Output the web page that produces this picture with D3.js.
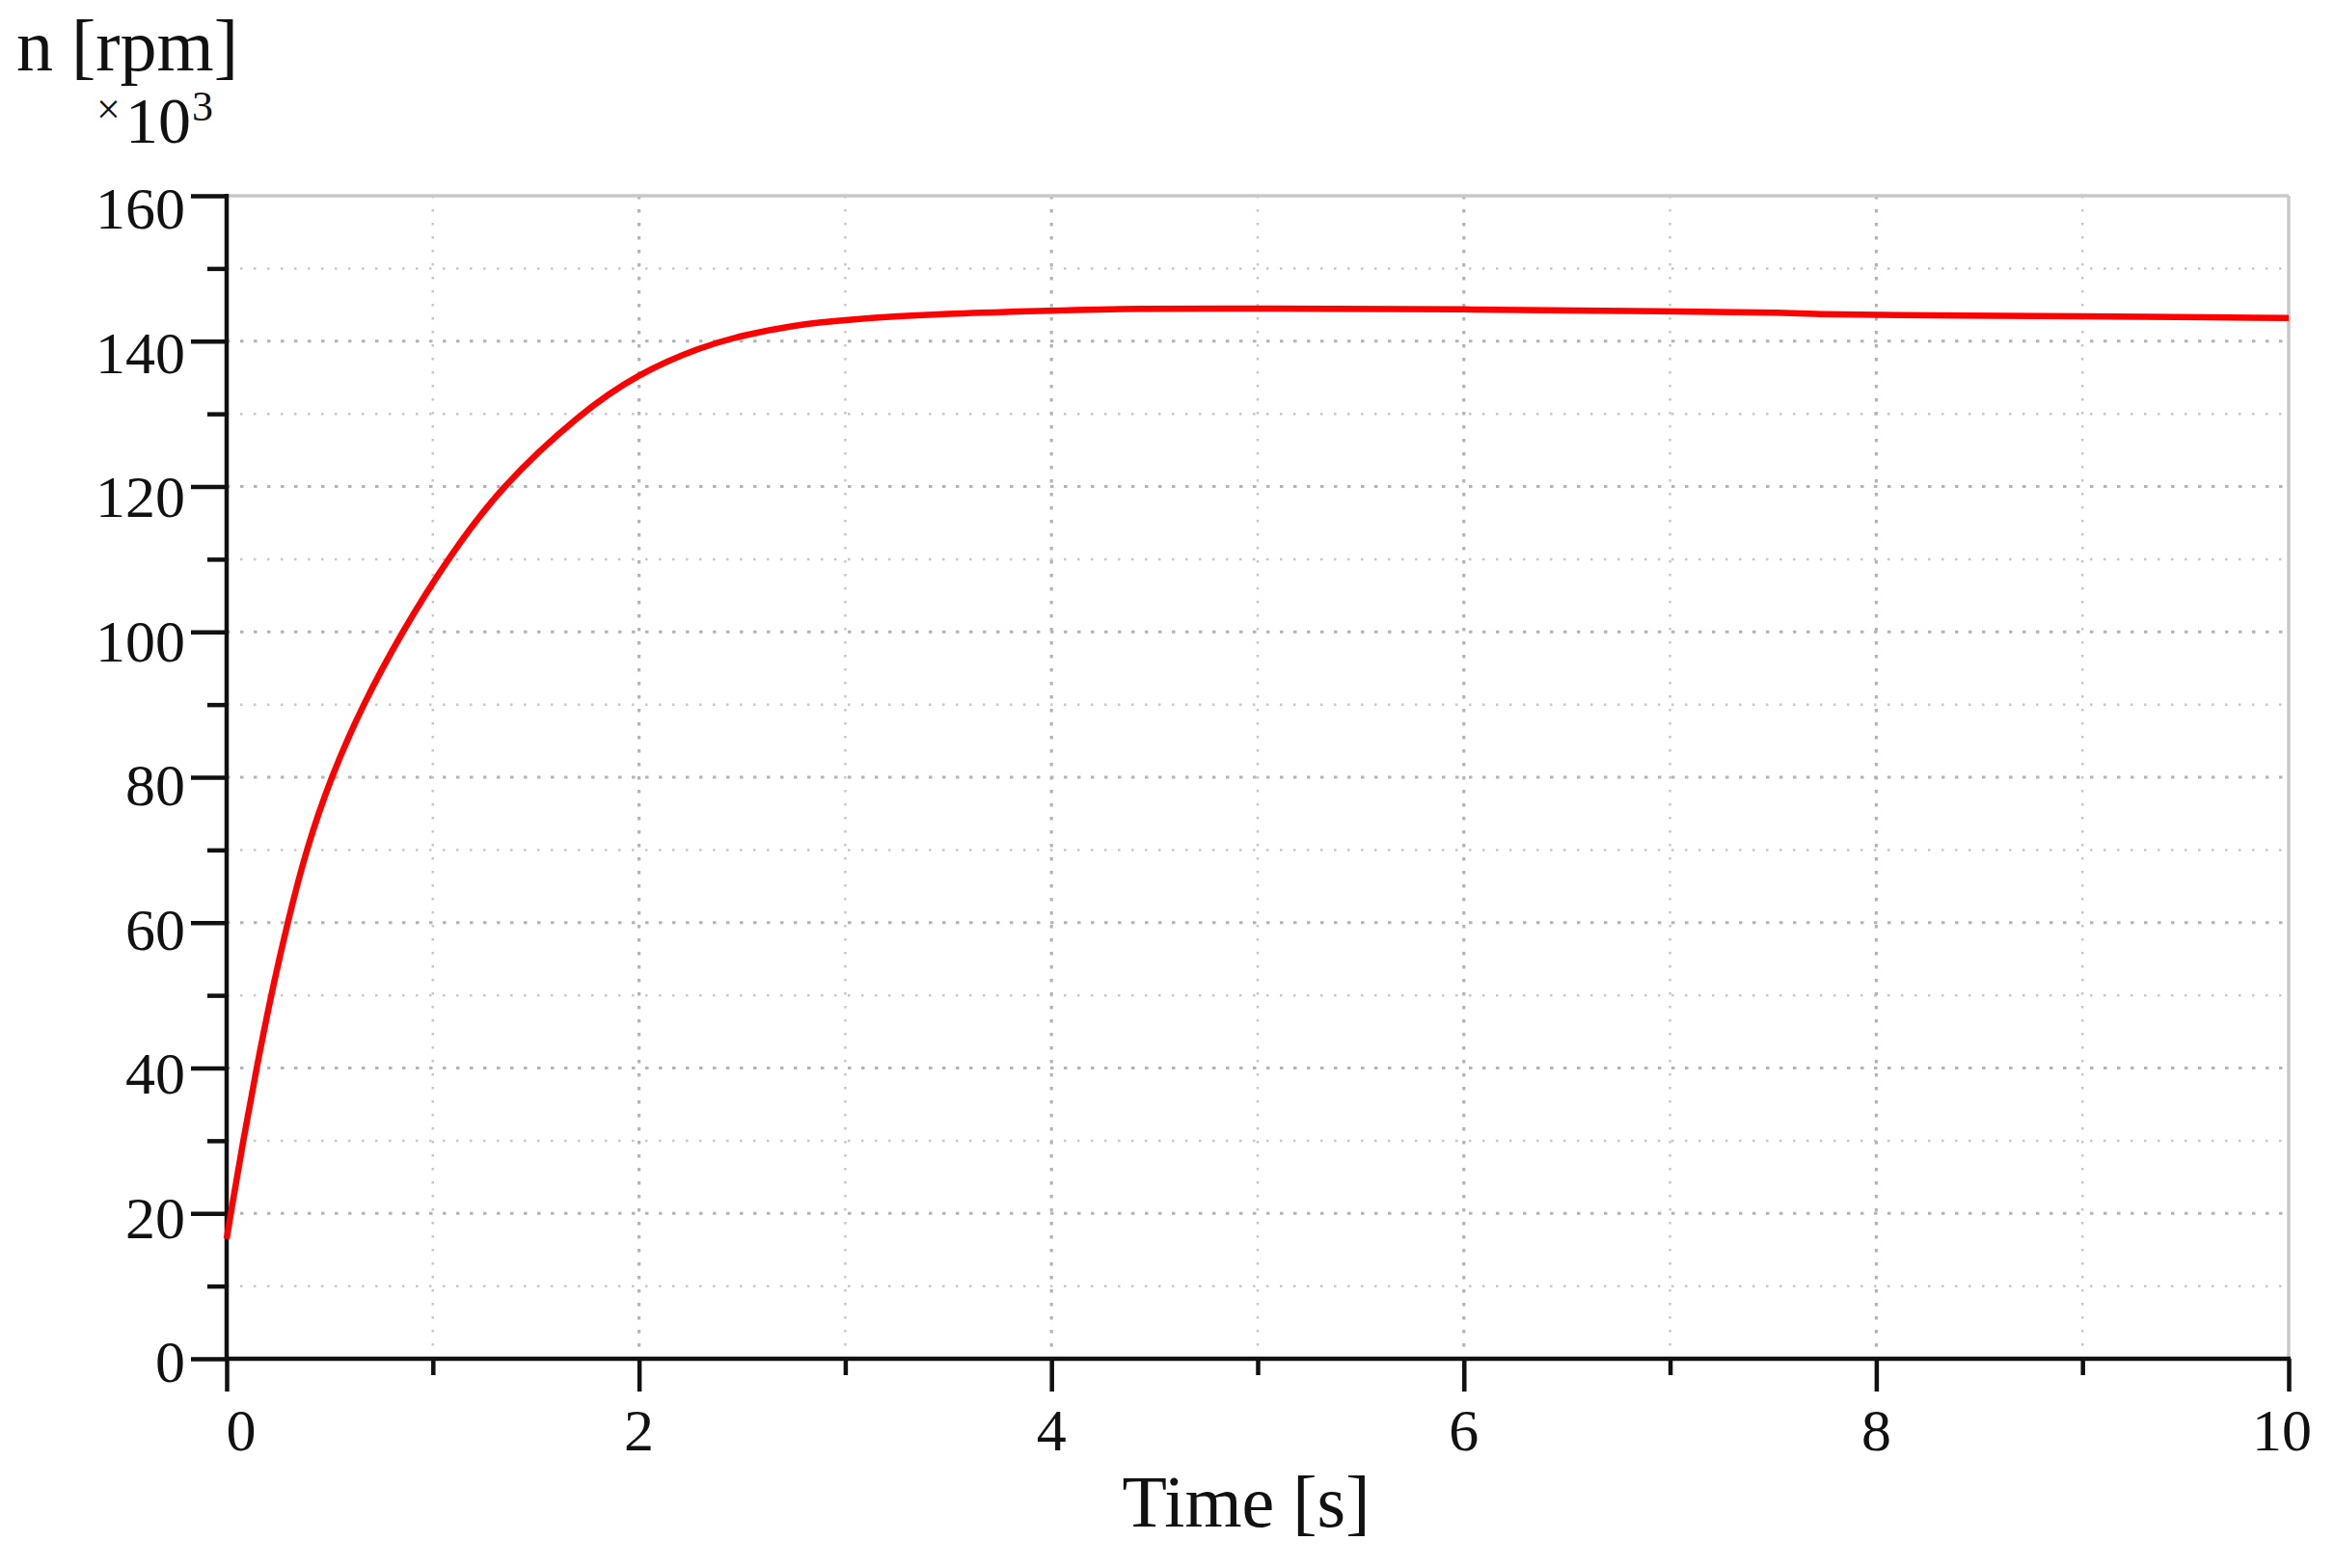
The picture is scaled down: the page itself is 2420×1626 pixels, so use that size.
<!DOCTYPE html>
<html>
<head>
<meta charset="utf-8">
<script src="https://cdn.jsdelivr.net/npm/d3@7"></script>
<style>
  html, body { margin: 0; padding: 0; background: #fff; }
  svg { display: block; }
  text { font-family: "Liberation Serif", "DejaVu Serif", serif; fill: #111; }
</style>
</head>
<body>
<svg id="chart" width="2420" height="1626"></svg>
<script>
// ---- data ----
const timeS  = [0, 0.02, 0.08, 0.145, 0.215, 0.295, 0.385, 0.505, 0.66, 0.85, 1.07, 1.33, 1.71, 2.0, 2.3, 2.5, 2.75, 3.0, 3.5, 4.0, 4.4, 5.0, 6.0, 7.0, 7.6, 7.7, 8.0, 9.0, 10.0];
const speedK = [16.5, 20, 30, 40, 50, 60, 70, 80, 90, 100, 110, 120, 130, 135.6, 139.2, 140.8, 142.2, 143.0, 143.8, 144.2, 144.5, 144.5, 144.4, 144.1, 143.9, 143.7, 143.6, 143.4, 143.2];

const xMajor = [0, 2, 4, 6, 8, 10];
const xMinor = [1, 3, 5, 7, 9];
const yMajor = [0, 20, 40, 60, 80, 100, 120, 140, 160];
const yMinor = [10, 30, 50, 70, 90, 110, 130, 150];
const xTickLabels = ["0", "2", "4", "6", "8", "10"];
const yTickLabels = ["0", "20", "40", "60", "80", "100", "120", "140", "160"];

const yTitle = "n [rpm]";
const xTitle = "Time [s]";

// ---- layout ----
const L = 235, R = 2373, T = 203, B = 1409;
const svg = d3.select("#chart");
svg.append("rect").attr("width", 2420).attr("height", 1626).attr("fill", "#fff");

const x = d3.scaleLinear().domain([0, 10]).range([L, R]);
const y = d3.scaleLinear().domain([0, 160]).range([B, T]);

// ---- grid ----
const grid = svg.append("g");
grid.selectAll(".hmin").data(yMinor).enter().append("line")
  .attr("x1", L).attr("x2", R).attr("y1", d => y(d)).attr("y2", d => y(d))
  .attr("stroke", "#c8c8c8").attr("stroke-width", 2.5).attr("stroke-dasharray", "2.5,11.5");
grid.selectAll(".hmaj").data(yMajor.filter(d => d > 0 && d < 160)).enter().append("line")
  .attr("x1", L).attr("x2", R).attr("y1", d => y(d)).attr("y2", d => y(d))
  .attr("stroke", "#b4b4b4").attr("stroke-width", 3.2).attr("stroke-dasharray", "3.5,10.5");
grid.selectAll(".vmin").data(xMinor).enter().append("line")
  .attr("y1", T).attr("y2", B).attr("x1", d => x(d)).attr("x2", d => x(d))
  .attr("stroke", "#c8c8c8").attr("stroke-width", 2.5).attr("stroke-dasharray", "2.5,11.5");
grid.selectAll(".vmaj").data(xMajor.filter(d => d > 0 && d < 10)).enter().append("line")
  .attr("y1", T).attr("y2", B).attr("x1", d => x(d)).attr("x2", d => x(d))
  .attr("stroke", "#b4b4b4").attr("stroke-width", 3.2).attr("stroke-dasharray", "3.5,10.5");

// top/right frame
svg.append("line").attr("x1", L).attr("x2", R).attr("y1", T).attr("y2", T)
  .attr("stroke", "#c8c8c8").attr("stroke-width", 3.5);
svg.append("line").attr("x1", R).attr("x2", R).attr("y1", T).attr("y2", B)
  .attr("stroke", "#c8c8c8").attr("stroke-width", 3.5);

// ---- axes ----
function styleAxis(g) {
  g.select(".domain").remove();
  g.selectAll(".tick line").attr("stroke", "#111").attr("stroke-width", 4.5);
  g.selectAll("text").remove();
}
svg.append("g").attr("transform", `translate(${L},0)`)
  .call(d3.axisLeft(y).tickValues(yMajor).tickSize(37).tickFormat("")).call(styleAxis);
svg.append("g").attr("transform", `translate(${L},0)`)
  .call(d3.axisLeft(y).tickValues(yMinor).tickSize(20).tickFormat("")).call(styleAxis);
svg.append("g").attr("transform", `translate(0,${B})`)
  .call(d3.axisBottom(x).tickValues(xMajor).tickSize(34).tickFormat("")).call(styleAxis);
svg.append("g").attr("transform", `translate(0,${B})`)
  .call(d3.axisBottom(x).tickValues(xMinor).tickSize(17).tickFormat("")).call(styleAxis);

// axis lines
svg.append("line").attr("x1", L).attr("x2", L).attr("y1", T - 2).attr("y2", B + 2)
  .attr("stroke", "#111").attr("stroke-width", 4.5);
svg.append("line").attr("x1", L - 2).attr("x2", R + 2).attr("y1", B).attr("y2", B)
  .attr("stroke", "#111").attr("stroke-width", 4.5);

// tick labels
const yLab = d3.scaleLinear().domain([0, 160]).range([B + 3, T + 13]);
svg.selectAll(".ylab").data(yMajor).enter().append("text")
  .attr("x", 192).attr("y", d => yLab(d) + 21)
  .attr("text-anchor", "end").attr("font-size", 62)
  .text((d, i) => yTickLabels[i]);

svg.selectAll(".xlab").data(xMajor).enter().append("text")
  .attr("x", (d, i) => x(d) + (i === 0 ? 15 : (i === xMajor.length - 1 ? -7 : 0)))
  .attr("y", 1504)
  .attr("text-anchor", "middle").attr("font-size", 62)
  .text((d, i) => xTickLabels[i]);

// titles
svg.append("text").attr("x", 17).attr("y", 73).attr("font-size", 76).text(yTitle);
const mult = svg.append("text").attr("y", 148);
mult.append("tspan").attr("x", 100).attr("y", 128).attr("font-size", 44).text("\u00d7");
mult.append("tspan").attr("x", 130).attr("y", 148).attr("font-size", 68).text("10");
mult.append("tspan").attr("x", 199).attr("y", 125).attr("font-size", 44).text("3");

svg.append("text").attr("x", 1292).attr("y", 1583).attr("text-anchor", "middle")
  .attr("font-size", 76).text(xTitle);

// ---- curve ----
const pts = timeS.map((t, i) => [t, speedK[i]]);
const line = d3.line().x(d => x(d[0])).y(d => y(d[1])).curve(d3.curveBasis);
svg.append("path").datum(pts).attr("d", line)
  .attr("fill", "none").attr("stroke", "#ff0000").attr("stroke-width", 6.5)
  .attr("stroke-linejoin", "round");
</script>
</body>
</html>
